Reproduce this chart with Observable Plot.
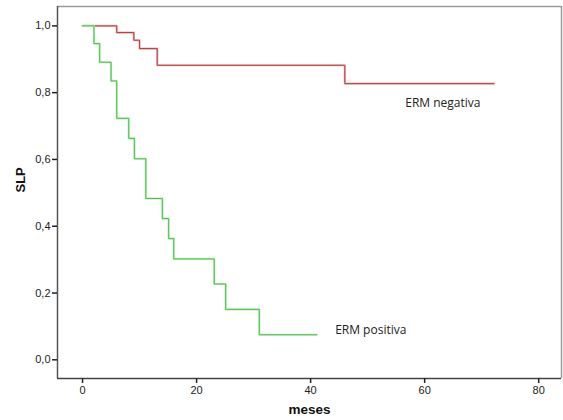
<!DOCTYPE html>
<html>
<head>
<meta charset="utf-8">
<script src="https://cdn.jsdelivr.net/npm/d3@7"></script>
<script src="https://cdn.jsdelivr.net/npm/@observablehq/plot@0.6"></script>
<style>
  html, body { margin: 0; padding: 0; background: #fff; }
  #chart svg { display: block; }
</style>
</head>
<body>
<div id="chart"></div>
<script>
// ERM negativa (red) Kaplan-Meier steps
const negTime = [0, 6, 9, 10, 13.1, 46, 72.2];
const negSurv = [1.0, 0.980, 0.957, 0.932, 0.882, 0.827, 0.827];
// ERM positiva (green) Kaplan-Meier steps
const posTime = [0, 2, 3, 5, 6, 8.1, 9.1, 11.1, 14, 15.1, 16, 23.1, 25.1, 31, 41.1];
const posSurv = [1.0, 0.947, 0.891, 0.835, 0.723, 0.663, 0.602, 0.483, 0.423, 0.363, 0.302, 0.227, 0.151, 0.075, 0.075];

const groupNames = ["ERM negativa", "ERM positiva"];
const labelX = [56.6, 44.3];
const labelY = [0.768, 0.088];

const xTicks = [0, 20, 40, 60, 80];
const yTicks = [0, 0.2, 0.4, 0.6, 0.8, 1.0];
const xTitle = "meses";
const yTitle = "SLP";

const xDomain = [-4.39, 84.0];
const yDomain = [-0.056, 1.058];

const neg = negTime.map((t, i) => ({t, s: negSurv[i]}));
const pos = posTime.map((t, i) => ({t, s: posSurv[i]}));
const labels = groupNames.map((name, i) => ({name, x: labelX[i], y: labelY[i]}));

const chart = Plot.plot({
  width: 563,
  height: 420,
  marginLeft: 57,
  marginRight: 2,
  marginTop: 6,
  marginBottom: 42,
  style: {fontFamily: "'Liberation Sans', Arial, sans-serif", background: "#fff"},
  x: {domain: xDomain},
  y: {domain: yDomain},
  marks: [
    Plot.ruleY([yDomain[1]], {stroke: "#9a9a9a", strokeWidth: 1.5}),
    Plot.ruleX([xDomain[1]], {stroke: "#9a9a9a", strokeWidth: 1.5}),
    Plot.ruleX([xDomain[0]], {stroke: "#555", strokeWidth: 1.5}),
    Plot.ruleY([yDomain[0]], {stroke: "#444", strokeWidth: 1.5}),
    Plot.axisX({ticks: xTicks, tickSize: 5, tickPadding: 3, label: null, fontSize: 11, color: "#222", stroke: "#222", strokeWidth: 1.5}),
    Plot.axisY({ticks: yTicks, tickSize: 5, tickPadding: 2, label: null, fontSize: 11, color: "#222", stroke: "#222", strokeWidth: 1.5,
      tickFormat: d => d3.format(".1f")(d).replace(".", ",")}),
    Plot.line(neg, {x: "t", y: "s", curve: "step-after", stroke: "#eab4b4", strokeWidth: 2.2}),
    Plot.line(neg, {x: "t", y: "s", curve: "step-after", stroke: "#b83c3c", strokeWidth: 1}),
    Plot.line(pos, {x: "t", y: "s", curve: "step-after", stroke: "#b8ecb8", strokeWidth: 2.2}),
    Plot.line(pos, {x: "t", y: "s", curve: "step-after", stroke: "#4cc24c", strokeWidth: 1}),
    Plot.text(labels, {x: "x", y: "y", text: "name", textAnchor: "start", fontSize: 12, fill: "#222",
      fontFamily: "'Open Sans', sans-serif"}),
    Plot.text([yTitle], {frameAnchor: "left", dx: -37, rotate: -90, fontSize: 13, fontWeight: "bold", fill: "#111"}),
    Plot.text([xTitle], {frameAnchor: "bottom", dy: 35, fontSize: 13.5, fontWeight: "bold", fill: "#111"})
  ]
});
document.getElementById("chart").appendChild(chart);
</script>
</body>
</html>
